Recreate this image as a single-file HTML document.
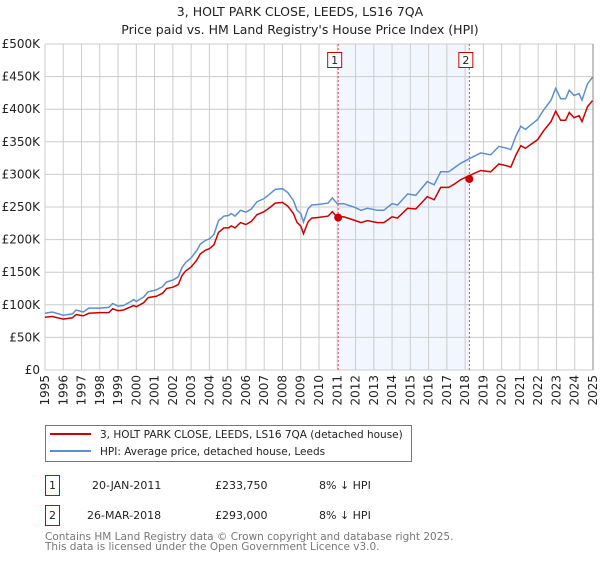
<!DOCTYPE html>
<html><head><meta charset="utf-8"><style>
body{margin:0;background:#fff;width:600px;height:560px;overflow:hidden;font-family:"DejaVu Sans","Liberation Sans",sans-serif;}
svg text{font-family:"DejaVu Sans","Liberation Sans",sans-serif;}
</style></head><body>
<svg id="chart" width="600" height="560" xmlns="http://www.w3.org/2000/svg">
<text x="300" y="16" text-anchor="middle" font-size="12.5" fill="#222">3, HOLT PARK CLOSE, LEEDS, LS16 7QA</text>
<text x="300" y="34" text-anchor="middle" font-size="12.5" fill="#222">Price paid vs. HM Land Registry's House Price Index (HPI)</text>
<g id="plot"></g>
<g>
<rect x="45.5" y="425.5" width="366" height="36" fill="#fff" stroke="#777"/>
<line x1="50" y1="434" x2="91" y2="434" stroke="#cc0000" stroke-width="2"/>
<text x="100" y="438" font-size="10.5" fill="#222">3, HOLT PARK CLOSE, LEEDS, LS16 7QA (detached house)</text>
<line x1="50" y1="451" x2="91" y2="451" stroke="#5b8fd0" stroke-width="2"/>
<text x="100" y="455" font-size="10.5" fill="#222">HPI: Average price, detached house, Leeds</text>
</g>
<g font-size="11" fill="#222">
<rect x="45.5" y="475.5" width="14" height="20" fill="none" stroke="#cc0000"/>
<text x="52.5" y="489" text-anchor="middle">1</text>
<text x="92" y="489">20-JAN-2011</text>
<text x="215" y="489">£233,750</text>
<text x="319" y="489">8% ↓ HPI</text>
</g>
<g font-size="11" fill="#222">
<rect x="45.5" y="505.5" width="14" height="20" fill="none" stroke="#cc0000"/>
<text x="52.5" y="519" text-anchor="middle">2</text>
<text x="87" y="519">26-MAR-2018</text>
<text x="215" y="519">£293,000</text>
<text x="319" y="519">8% ↓ HPI</text>
</g>
<text x="45" y="540" font-size="10.5" fill="#777">Contains HM Land Registry data © Crown copyright and database right 2025.</text>
<text x="45" y="550" font-size="10.5" fill="#777">This data is licensed under the Open Government Licence v3.0.</text>
</svg>
<script>
const hpiYears=[1995.0,1995.4,1996.0,1996.5,1996.7,1997.1,1997.4,1998.0,1998.5,1998.7,1999.0,1999.3,1999.7,1999.85,2000.0,2000.4,2000.65,2001.1,2001.45,2001.65,2002.0,2002.3,2002.5,2002.7,2003.0,2003.3,2003.5,2003.8,2004.0,2004.25,2004.5,2004.8,2005.05,2005.2,2005.4,2005.7,2006.0,2006.3,2006.6,2007.0,2007.35,2007.6,2008.0,2008.3,2008.6,2008.8,2009.0,2009.15,2009.4,2009.6,2010.0,2010.5,2010.73,2011.0,2011.35,2011.9,2012.3,2012.65,2013.2,2013.55,2014.0,2014.3,2014.85,2015.3,2015.93,2016.3,2016.66,2017.1,2017.4,2017.76,2018.3,2018.85,2019.4,2019.85,2020.3,2020.5,2020.77,2021.05,2021.3,2021.6,2021.96,2022.3,2022.7,2022.96,2023.23,2023.5,2023.7,2023.96,2024.24,2024.4,2024.7,2024.97];
const hpiValues=[87,89,84,86,92,89,95,95,96,102,98,99,105,108,105,112,120,123,128,135,138,143,157,165,172,183,193,199,201,208,229,236,237,240,236,245,242,247,258,263,271,277,278,272,260,245,240,227,247,253,254,256,264,255,255,250,245,248,245,245,255,253,270,268,289,284,304,304,310,317,325,333,330,343,340,338,358,374,369,376,384,399,414,432,416,416,429,421,424,414,439,449];
const paidValues=[81,82,78,80,85,83,87,88,88,94,91,92,97,99,97,103,111,113,118,125,127,131,145,152,158,168,178,184,186,192,211,218,218,221,218,226,223,228,238,243,250,256,257,251,240,226,221,209,227,233,234,236,243,234,235,230,226,229,226,226,235,233,248,247,266,261,280,280,285,292,299,306,304,316,313,311,329,344,340,346,353,367,381,397,383,383,395,387,390,381,404,413];
const sales=[{t:2011.05,v:233.75,label:"1"},{t:2018.23,v:293,label:"2"}];
const yTicks=[0,50,100,150,200,250,300,350,400,450,500];
const yTickLabels=["£0","£50K","£100K","£150K","£200K","£250K","£300K","£350K","£400K","£450K","£500K"];
const xYears=[1995,1996,1997,1998,1999,2000,2001,2002,2003,2004,2005,2006,2007,2008,2009,2010,2011,2012,2013,2014,2015,2016,2017,2018,2019,2020,2021,2022,2023,2024,2025];
const X0=45,X1=593,Y0=370,Y1=44;
const xs=t=>X0+(t-1995)/30*(X1-X0);
const ys=v=>Y0-v/500*(Y0-Y1);
const NS="http://www.w3.org/2000/svg";
const g=document.getElementById('plot');
function mk(tag,attrs){const e=document.createElementNS(NS,tag);for(const k in attrs)e.setAttribute(k,attrs[k]);g.appendChild(e);return e;}
let e=mk('rect',{x:xs(sales[0].t),y:Y1,width:xs(sales[1].t)-xs(sales[0].t),height:Y0-Y1,fill:'#f2f6fe'});


yTicks.forEach((v,i)=>{
 let l=mk('line',{x1:X0,x2:X1,y1:ys(v),y2:ys(v),stroke:'#cccccc'});
 
 
 let t=mk('text',{x:X0-5,y:ys(v)+4,'text-anchor':'end','font-size':'12',fill:'#222'});
 t.textContent=yTickLabels[i];
 
 
});
xYears.forEach(y=>{
 let l=mk('line',{x1:xs(y),x2:xs(y),y1:Y1,y2:Y0,stroke:'#cccccc'});
 
 
 let t=mk('text',{x:0,y:0,'text-anchor':'end','font-size':'12',fill:'#222',transform:`translate(${xs(y)+4},${Y0+5}) rotate(-90)`});
 t.textContent=y;
 
 
});
let ax=mk('line',{x1:X1,x2:X1,y1:Y1,y2:Y0,stroke:'#888'});


sales.forEach(s=>{
 let l=mk('line',{x1:xs(s.t),x2:xs(s.t),y1:Y1,y2:Y0,stroke:'#e05050','stroke-dasharray':'2,2'});
 
 
 let r=mk('rect',{x:xs(s.t)-10.5,y:52.5,width:14,height:15,fill:'#fff',stroke:'#cc0000'});
 
 
 let t=mk('text',{x:xs(s.t)-3.5,y:64,'text-anchor':'middle','font-size':'11',fill:'#222'});
 t.textContent=s.label;
 
 
});
const path=vals=>vals.map((v,i)=>(i?'L':'M')+xs(hpiYears[i]).toFixed(1)+','+ys(v).toFixed(1)).join('');
let hp=mk('path',{d:path(hpiValues),fill:'none',stroke:'#5b8fd0','stroke-width':'1.5'});


let pp=mk('path',{d:path(paidValues),fill:'none',stroke:'#cc0000','stroke-width':'1.5'});


sales.forEach(s=>{
 let c=mk('circle',{cx:xs(s.t),cy:ys(s.v),r:4,fill:'#cc0000'});
 
 
});
</script>
</body></html>
